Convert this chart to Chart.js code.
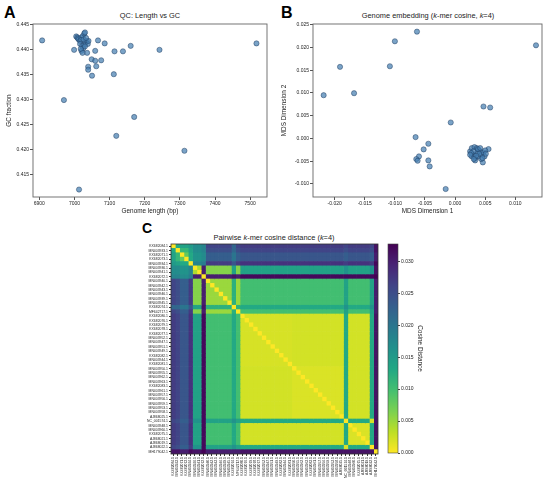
<!DOCTYPE html>
<html>
<head>
<meta charset="utf-8">
<script src="https://cdn.jsdelivr.net/npm/chart.js@4.4.1/dist/chart.umd.min.js"></script>
<style>
body{margin:0;background:#fff;width:550px;height:482px;position:relative;overflow:hidden;font-family:"Liberation Sans",Arial,sans-serif;color:#222}
canvas{position:absolute}
.lbl{position:absolute;font-weight:bold;color:#000;line-height:1}
.ttl{position:absolute;font-size:7.4px;line-height:1;white-space:nowrap;transform:translateX(-50%);color:#222}
</style>
</head>
<body>
<div class="lbl" style="left:4px;top:5px;font-size:16px">A</div>
<div class="lbl" style="left:281px;top:5px;font-size:16px">B</div>
<div class="lbl" style="left:142px;top:221px;font-size:14px">C</div>
<div class="ttl" style="left:150px;top:12px">QC: Length vs GC</div>
<div class="ttl" style="left:428px;top:12px">Genome embedding (<i>k</i>-mer cosine, <i>k</i>=4)</div>
<div class="ttl" style="left:274px;top:234px">Pairwise <i>k</i>-mer cosine distance (<i>k</i>=4)</div>

<canvas id="qc" width="275" height="215" style="left:0;top:0"></canvas>
<canvas id="mds" width="275" height="215" style="left:275px;top:0"></canvas>
<canvas id="heat" width="300" height="267" style="left:130px;top:215px"></canvas>
<canvas id="cbar" width="50" height="267" style="left:380px;top:215px"></canvas>

<script>
// panel A: genome length vs GC fraction
const lengthBp = [6908, 6970, 7013, 6999, 7036, 7059, 7067, 7086, 7049, 7059, 7076, 7039,
  7039, 7062, 7050, 7114, 7138, 7160, 7242, 7112, 7170, 7119, 7313, 7518,
  7005, 7008, 7010, 7012, 7016, 7020, 7024, 7028, 7030, 7019, 7016, 7022,
  7028, 7032, 7035, 7038, 7025, 7020, 7023, 7018, 7030, 7040, 7026, 7033];
const gcFraction = [0.4419, 0.4299, 0.4119, 0.4400, 0.4394, 0.4398, 0.4419, 0.4413, 0.4381, 0.4378, 0.4379, 0.4366,
  0.4360, 0.4367, 0.4348, 0.4397, 0.4397, 0.4408, 0.4400, 0.4351, 0.4265, 0.4227, 0.4197, 0.4413,
  0.4427, 0.4425, 0.4423, 0.4421, 0.4418, 0.4425, 0.4428, 0.4433, 0.4435, 0.4420, 0.4412, 0.4408,
  0.4410, 0.4415, 0.4418, 0.4412, 0.4403, 0.4398, 0.4394, 0.4402, 0.4407, 0.4418, 0.4421, 0.4424];

// panel B: MDS embedding
const mds1 = [-0.02183, -0.01911, -0.01678, -0.0100, -0.01083, -0.00633, 0.01344, 0.00472, 0.00583, -0.00072,
  -0.00656, -0.00444, -0.00522, -0.00600, -0.00644, -0.00622, -0.00444, -0.00422, -0.00156, 0.00461, 0.00556,
  0.00250, 0.00278, 0.00322, 0.00361, 0.00389, 0.00417, 0.00361, 0.00306, 0.00278, 0.00333, 0.00389, 0.00444,
  0.00472, 0.00500, 0.00489, 0.00433, 0.00333, 0.00306, 0.00378, 0.00400, 0.00267, 0.00350, 0.00417, 0.00456,
  0.00511, 0.00311, 0.00250];
const mds2 = [0.00951, 0.01574, 0.00995, 0.02137, 0.01588, 0.02349, 0.02049, 0.00702, 0.00680, 0.00351,
  0.00029, -0.00117, -0.00241, -0.00395, -0.00454, -0.00490, -0.00483, -0.00615, -0.01112, -0.00527, -0.00234,
  -0.00285, -0.00212, -0.00190, -0.00212, -0.00249, -0.00285, -0.00322, -0.00359, -0.00395, -0.00432, -0.00395, -0.00359,
  -0.00307, -0.00264, -0.00395, -0.00454, -0.00483, -0.00285, -0.00234, -0.00337, -0.00322, -0.00381, -0.00212, -0.00432,
  -0.00337, -0.00454, -0.00359];

// panel C: pairwise distance heatmap, read as blocks
const sampleNames = ['KX682084.1', 'MN403933.1', 'KX682071.1', 'KX682073.1', 'MN403934.1', 'MN403936.1',
  'MN403941.1', 'KX682072.1', 'MN403940.1', 'MN403942.1', 'MN403943.1', 'MN403946.1', 'MN403939.1',
  'MN403945.1', 'KX682074.1', 'MF642717.1', 'KX682080.1', 'KX682076.1', 'KX682079.1', 'KX682078.1',
  'KX682077.1', 'MN403952.1', 'MN403947.1', 'MN403951.1', 'MN403949.1', 'KX682082.1', 'MN403944.1',
  'KX682081.1', 'MN403950.1', 'MN403955.1', 'MN403962.1', 'MN403963.1', 'KX682083.1', 'MN403961.1',
  'MN403957.1', 'MN403956.1', 'MN403959.1', 'MN403953.1', 'MN403958.1', 'AJ868025.1', 'NC_001574.1',
  'MN403948.1', 'MN403960.1', 'KX682075.1', 'AJ868021.1', 'AJ868019.1', 'AJ868022.1', 'MH179042.1'];
const sampleGroup = ['A0', 'A1', 'A2', 'A2', 'A4', 'Bp', 'Bp', 'O1', 'B', 'B', 'B', 'B', 'B', 'B', 'T1', 'B',
  'C1', 'C1', 'C1', 'C1', 'C1', 'C1', 'C1', 'C1', 'C1', 'C1', 'C1', 'C1',
  'C2', 'C2', 'C2', 'C2', 'C2', 'C2', 'C2', 'C2', 'C2', 'C2', 'C2', 'C2',
  'T2', 'C3', 'C3', 'C3', 'C3', 'C3', 'T2', 'O2'];
const groupOrder = ['A0', 'A1', 'A2', 'A4', 'Bp', 'O1', 'B', 'T1', 'C1', 'C2', 'T2', 'C3', 'O2'];
const groupDist = [
  [0.009, 0.013, 0.014, 0.015, 0.017, 0.018, 0.026, 0.022, 0.027, 0.027, 0.026, 0.027, 0.031],
  [0.013, 0.009, 0.011, 0.014, 0.017, 0.018, 0.025, 0.022, 0.026, 0.026, 0.025, 0.026, 0.031],
  [0.014, 0.011, 0.008, 0.013, 0.016, 0.017, 0.023, 0.020, 0.024, 0.024, 0.023, 0.024, 0.030],
  [0.015, 0.014, 0.013, 0.009, 0.018, 0.019, 0.027, 0.024, 0.028, 0.028, 0.027, 0.028, 0.032],
  [0.017, 0.017, 0.016, 0.018, 0.004, 0.030, 0.006, 0.014, 0.014, 0.014, 0.016, 0.014, 0.031],
  [0.018, 0.018, 0.017, 0.019, 0.030, 0.002, 0.030, 0.031, 0.032, 0.032, 0.032, 0.032, 0.033],
  [0.026, 0.025, 0.023, 0.027, 0.006, 0.030, 0.005, 0.012, 0.010, 0.010, 0.014, 0.010, 0.030],
  [0.022, 0.022, 0.020, 0.024, 0.014, 0.031, 0.012, 0.005, 0.013, 0.013, 0.016, 0.013, 0.030],
  [0.027, 0.026, 0.024, 0.028, 0.014, 0.032, 0.010, 0.013, 0.0020, 0.0022, 0.013, 0.0022, 0.031],
  [0.027, 0.026, 0.024, 0.028, 0.014, 0.032, 0.010, 0.013, 0.0022, 0.0018, 0.013, 0.0022, 0.031],
  [0.026, 0.025, 0.023, 0.027, 0.016, 0.032, 0.014, 0.016, 0.013, 0.013, 0.002, 0.013, 0.031],
  [0.027, 0.026, 0.024, 0.028, 0.014, 0.032, 0.010, 0.013, 0.0022, 0.0022, 0.013, 0.0018, 0.031],
  [0.031, 0.031, 0.030, 0.032, 0.031, 0.033, 0.030, 0.030, 0.031, 0.031, 0.031, 0.031, 0.000]
];
const distMax = 0.0327;

Chart.defaults.font.family = '"Liberation Sans", Arial, sans-serif';
Chart.defaults.color = '#222';

// viridis, reversed so 0 is yellow
const VIRIDIS = ['#440154', '#482475', '#414487', '#355f8d', '#2a788e', '#21918c',
  '#22a884', '#44bf70', '#7ad151', '#bddf26', '#fde725'];
function hex(h) { return [1, 3, 5].map(k => parseInt(h.substr(k, 2), 16)); }
function viridisR(v) {
  const t = 1 - Math.min(Math.max(v / distMax, 0), 1);
  const p = t * 10, i = Math.min(Math.floor(p), 9), f = p - i;
  const a = hex(VIRIDIS[i]), b = hex(VIRIDIS[i + 1]);
  const c = a.map((x, k) => Math.round(x + (b[k] - x) * f));
  return 'rgb(' + c.join(',') + ')';
}

const dist = sampleNames.map((_, i) => sampleNames.map((_, j) =>
  i === j ? 0 : groupDist[groupOrder.indexOf(sampleGroup[i])][groupOrder.indexOf(sampleGroup[j])]));

const frame = {
  id: 'frame',
  afterDraw(chart, args, opts) {
    const a = chart.chartArea, c = chart.ctx;
    c.save();
    c.strokeStyle = opts.color || '#555';
    c.lineWidth = opts.width || 0.8;
    c.strokeRect(a.left, a.top, a.right - a.left, a.bottom - a.top);
    c.restore();
  }
};
Chart.register(frame);

const fmt3 = v => (Math.abs(v) < 1e-9 ? 0 : v).toFixed(3);
const tickGrid = { display: true, drawOnChartArea: false, drawTicks: true, tickLength: 3, color: '#555' };

function scatterChart(id, xs, ys, xr, yr, xTitle, yTitle, yWidth, xStep, xFmt) {
  return new Chart(document.getElementById(id), {
    type: 'scatter',
    data: {
      datasets: [{
        data: xs.map((x, i) => ({ x: x, y: ys[i] })),
        backgroundColor: 'rgba(70,128,178,0.72)',
        borderColor: 'rgba(30,58,95,0.8)',
        borderWidth: 0.6,
        pointRadius: 2.6
      }]
    },
    options: {
      responsive: false,
      animation: false,
      layout: { padding: { left: 0, top: 24, right: 8, bottom: 0 } },
      plugins: { legend: { display: false }, tooltip: { enabled: false }, frame: { color: '#666', width: 0.9 } },
      scales: {
        x: {
          min: xr[0], max: xr[1],
          grid: tickGrid, border: { display: false },
          ticks: { stepSize: xStep, includeBounds: false, font: { size: 5 }, padding: 1, maxRotation: 0, callback: xFmt },
          title: { display: true, text: xTitle, font: { size: 6.4 }, padding: { top: 0, bottom: 0 } },
          afterFit: s => { s.height = 18; }
        },
        y: {
          min: yr[0], max: yr[1],
          grid: tickGrid, border: { display: false },
          ticks: { stepSize: 0.005, includeBounds: false, font: { size: 5 }, padding: 1, callback: fmt3 },
          title: { display: true, text: yTitle, font: { size: 6.4 }, padding: { top: 5, bottom: 0 } },
          afterFit: s => { s.width = yWidth; }
        }
      }
    }
  });
}

scatterChart('qc', lengthBp, gcFraction, [6882, 7548], [0.4104, 0.4452],
  'Genome length (bp)', 'GC fraction', 33, 100, v => String(Math.round(v)));
scatterChart('mds', mds1, mds2, [-0.0236, 0.01444], [-0.01288, 0.02517],
  'MDS Dimension 1', 'MDS Dimension 2', 38, 0.005, fmt3);

// heatmap: one floating bar per cell, one dataset per column
new Chart(document.getElementById('heat'), {
  type: 'bar',
  data: {
    labels: sampleNames,
    datasets: sampleNames.map((name, j) => ({
      label: name,
      data: sampleNames.map(() => [j, j + 1]),
      backgroundColor: dist.map(row => viridisR(row[j])),
      borderWidth: 0,
      grouped: false,
      categoryPercentage: 1,
      barPercentage: 1
    }))
  },
  options: {
    indexAxis: 'y',
    responsive: false,
    animation: false,
    layout: { padding: { left: 0, top: 29, right: 52, bottom: 0 } },
    plugins: { legend: { display: false }, tooltip: { enabled: false }, frame: { color: '#333', width: 0.8 } },
    scales: {
      x: { type: 'linear', min: 0, max: 48, display: false },
      xl: {
        type: 'category', labels: sampleNames, position: 'bottom', offset: true,
        grid: { display: true, drawOnChartArea: false, offset: false, tickLength: 2, color: '#333' },
        border: { display: false },
        ticks: { autoSkip: false, minRotation: 90, maxRotation: 90, font: { size: 3.4 }, padding: 1 },
        afterFit: s => { s.height = 28; }
      },
      y: {
        type: 'category', offset: true,
        grid: { display: true, drawOnChartArea: false, offset: false, tickLength: 2, color: '#333' },
        border: { display: false },
        ticks: { autoSkip: false, font: { size: 3.4 }, padding: 1 },
        afterFit: s => { s.width = 41; }
      }
    }
  }
});

// colorbar
const cbarFill = {
  id: 'cbarFill',
  beforeDatasetsDraw(chart) {
    const a = chart.chartArea, c = chart.ctx, y = chart.scales.y;
    const y0 = y.getPixelForValue(0), y1 = y.getPixelForValue(distMax);
    const g = c.createLinearGradient(0, y0, 0, y1);
    VIRIDIS.forEach((col, k) => g.addColorStop(k / 10, VIRIDIS[10 - k]));
    c.save();
    c.fillStyle = g;
    c.fillRect(a.left, y1, a.right - a.left, y0 - y1);
    c.restore();
  }
};
new Chart(document.getElementById('cbar'), {
  type: 'bar',
  data: { labels: [''], datasets: [] },
  plugins: [cbarFill],
  options: {
    responsive: false,
    animation: false,
    layout: { padding: { left: 8, top: 29, right: 0, bottom: 29 } },
    plugins: { legend: { display: false }, tooltip: { enabled: false }, frame: { color: '#444', width: 0.6 } },
    scales: {
      x: { display: false },
      y: {
        position: 'right', min: 0, max: distMax,
        grid: { display: true, drawOnChartArea: false, tickLength: 2, color: '#444' },
        border: { display: false },
        ticks: { stepSize: 0.005, includeBounds: false, font: { size: 5 }, padding: 1, callback: fmt3 },
        title: { display: true, text: 'Cosine Distance', font: { size: 6.4 }, padding: { top: 6, bottom: 0 } },
        afterFit: s => { s.width = 32; }
      }
    }
  }
});
</script>
</body>
</html>
